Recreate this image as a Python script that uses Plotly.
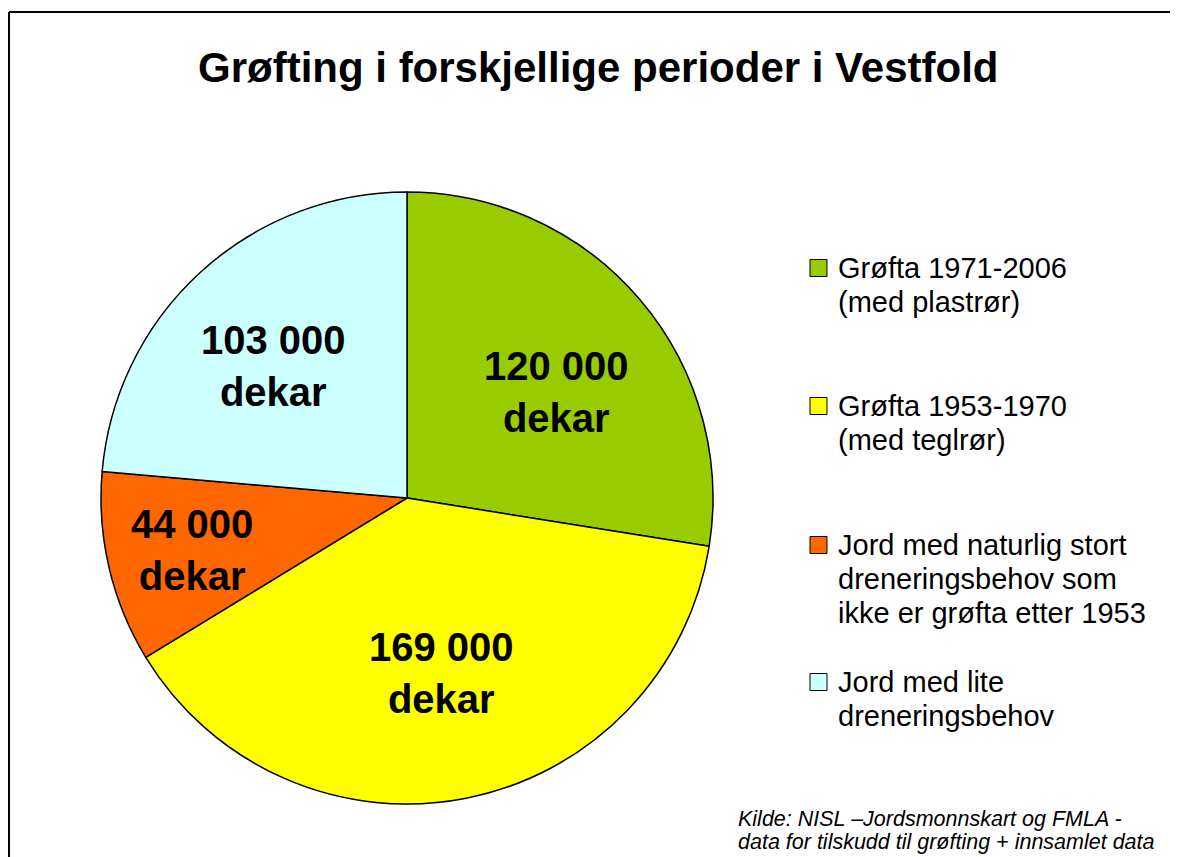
import plotly.graph_objects as go

# page body has an 8px margin; figure coordinates are offset accordingly
OFF = 8
W, H = 1178 - OFF, 857 - OFF

# ---- data ----
categories = [
    "Grøfta 1971-2006<br>(med plastrør)",
    "Grøfta 1953-1970<br>(med teglrør)",
    "Jord med naturlig stort<br>dreneringsbehov som<br>ikke er grøfta etter 1953",
    "Jord med lite<br>dreneringsbehov",
]
values_dekar = [120000, 169000, 44000, 103000]
unit = "dekar"
colors = ["#99CC00", "#FFFF00", "#FF6600", "#CCFFFF"]
title_text = "Grøfting i forskjellige perioder i Vestfold"
source_lines = [
    "Kilde: NISL \u2013Jordsmonnskart og FMLA -",
    "data for tilskudd til grøfting + innsamlet data",
]

FONT = "Liberation Sans, Arial, sans-serif"

def px(x):
    return (x - OFF) / W

def py(y):
    return 1 - (y - OFF) / H

# pie geometry (screen pixels)
cx, cy, r = 407, 498, 306

fig = go.Figure()
fig.add_trace(go.Pie(
    labels=[c.replace("<br>", " ") for c in categories],
    values=values_dekar,
    sort=False,
    direction="clockwise",
    rotation=0,
    marker=dict(colors=colors, line=dict(color="black", width=1.5)),
    textinfo="none",
    showlegend=False,
    domain=dict(x=[px(cx - r), px(cx + r)], y=[py(cy + r), py(cy - r)]),
))

annotations = []
# title
annotations.append(dict(x=px(598), y=py(67), xref="paper", yref="paper",
                        text="<b>%s</b>" % title_text, showarrow=False,
                        xanchor="center", yanchor="middle",
                        font=dict(family=FONT, size=42, color="black")))

# slice labels
label_pos = [(556, 392), (441, 673), (192, 550), (273, 366)]
for v, (lx, ly) in zip(values_dekar, label_pos):
    t = "{:,}".format(v).replace(",", " ")
    annotations.append(dict(x=px(lx), y=py(ly), xref="paper", yref="paper",
                            text="<b>%s<br>%s</b>" % (t, unit), showarrow=False,
                            xanchor="center", yanchor="middle", align="center",
                            font=dict(family=FONT, size=40, color="black")))

# legend (manual)
shapes = []
leg_y = [268, 406, 545, 682]
line_gap = 34
for cat, col, y0 in zip(categories, colors, leg_y):
    shapes.append(dict(type="rect", xref="paper", yref="paper",
                       x0=px(810), x1=px(827), y0=py(y0 - 8.5), y1=py(y0 + 8.5),
                       fillcolor=col, line=dict(color="black", width=1)))
    for i, ln in enumerate(cat.split("<br>")):
        annotations.append(dict(x=px(836), y=py(y0 + i * line_gap), xref="paper", yref="paper",
                                text=ln, showarrow=False, xanchor="left", yanchor="middle",
                                font=dict(family=FONT, size=29, color="black")))

# source
for i, ln in enumerate(source_lines):
    annotations.append(dict(x=px(736), y=py(819 + i * 23), xref="paper", yref="paper",
                            text="<i>%s</i>" % ln, showarrow=False, xanchor="left",
                            yanchor="middle", font=dict(family=FONT, size=21.5, color="black")))

# outer frame (left and top edges visible)
shapes.append(dict(type="line", xref="paper", yref="paper",
                   x0=px(9), x1=px(9), y0=py(12), y1=0, line=dict(color="black", width=2)))
shapes.append(dict(type="line", xref="paper", yref="paper",
                   x0=px(9), x1=1, y0=py(12), y1=py(12), line=dict(color="black", width=2)))

fig.update_layout(
    width=W, height=H,
    margin=dict(l=0, r=0, t=0, b=0),
    paper_bgcolor="white", plot_bgcolor="white",
    annotations=annotations, shapes=shapes,
    showlegend=False,
)

fig.write_html("out.html")
